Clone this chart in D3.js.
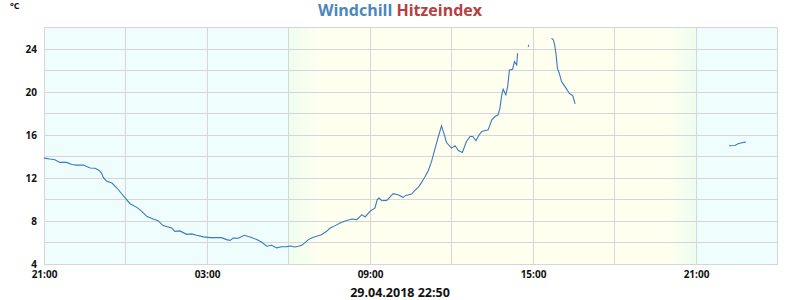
<!DOCTYPE html>
<html lang="de">
	<head>
		<meta charset="UTF-8" />
		<title>Windchill Hitzeindex</title>
		<script src="https://d3js.org/d3.v7.min.js"></script>
		<style>
			body { margin: 0; background: #fff; }
			text { font-family: "Open Sans", sans-serif; font-weight: bold; }
		</style>
	</head>
	<body></body>

	<script>
		// Messzeitpunkte (Tag Stunde:Minute, April 2018) und Windchill in °C, null = Lücke
		var times = [
			"28 21:00", "28 21:13", "28 21:24", "28 21:35", "28 21:50", "28 22:01", "28 22:12", "28 22:27",
			"28 22:42", "28 22:53", "28 23:02", "28 23:07", "28 23:11", "28 23:18", "28 23:30", "28 23:41",
			"28 23:52", "29 00:01", "29 00:10", "29 00:25", "29 00:36", "29 00:47", "29 01:01", "29 01:12",
			"29 01:23", "29 01:42", "29 01:49", "29 02:00", "29 02:15", "29 02:26", "29 02:37", "29 02:52",
			"29 03:07", "29 03:32", "29 03:43", "29 03:51", "29 03:58", "29 04:09", "29 04:22", "29 04:35",
			"29 04:50", "29 05:01", "29 05:12", "29 05:23", "29 05:34", "29 05:45", "29 05:56", "29 06:05",
			"29 06:14", "29 06:22", "29 06:29", "29 06:36", "29 06:44", "29 06:55", "29 07:02", "29 07:13",
			"29 07:24", "29 07:32", "29 07:43", "29 07:54", "29 08:05", "29 08:20", "29 08:31", "29 08:42",
			"29 08:49", "29 09:00", "29 09:11", "29 09:16", "29 09:20", "29 09:26", "29 09:37", "29 09:44",
			"29 09:51", "29 10:02", "29 10:13", "29 10:19", "29 10:32", "29 10:39", "29 10:47", "29 10:54",
			"29 11:01", "29 11:09", "29 11:16", "29 11:23", "29 11:31", "29 11:38", "29 11:43", "29 11:49",
			"29 12:00", "29 12:08", "29 12:15", "29 12:24", "29 12:33", "29 12:41", "29 12:47", "29 12:54",
			"29 13:01", "29 13:07", "29 13:21", "29 13:29", "29 13:36", "29 13:43", "29 13:47", "29 13:51",
			"29 13:54", "29 14:00", "29 14:04", "29 14:08", "29 14:15", "29 14:19", "29 14:24", "29 14:26",
			"29 14:38", "29 14:49", "29 14:51", "29 15:20", "29 15:41", "29 15:45", "29 15:48", "29 15:51",
			"29 15:54", "29 15:58", "29 16:03", "29 16:08", "29 16:14", "29 16:20", "29 16:28", "29 16:33",
			"29 19:00", "29 22:13", "29 22:26", "29 22:33", "29 22:41", "29 22:50"
		];
		var windchill = [
			13.85, 13.76, 13.7, 13.45, 13.45, 13.26, 13.2, 13.2,
			12.93, 12.9, 12.7, 12.46, 12.05, 11.72, 11.53, 11.07,
			10.51, 10.05, 9.61, 9.27, 8.9, 8.43, 8.19, 8.03,
			7.57, 7.35, 7.04, 7.08, 6.76, 6.8, 6.67, 6.52,
			6.45, 6.45, 6.27, 6.2, 6.42, 6.39, 6.67, 6.52,
			6.27, 6.02, 5.65, 5.74, 5.5, 5.6, 5.62, 5.68,
			5.58, 5.65, 5.74, 5.96, 6.27, 6.48, 6.58, 6.73,
			7.04, 7.35, 7.57, 7.82, 8.0, 8.19, 8.13, 8.59,
			8.38, 8.9, 9.21, 9.99, 10.14, 9.89, 9.92, 10.23,
			10.54, 10.45, 10.2, 10.38, 10.51, 10.85, 11.16, 11.59,
			12.09, 12.7, 13.54, 14.63, 15.86, 16.85, 16.17, 15.3,
			14.78, 15.0, 14.56, 14.38, 15.4, 15.86, 15.86, 15.46,
			16.02, 16.33, 16.48, 17.41, 17.72, 17.88, 18.5, 19.73,
			20.26, 19.73, 20.5, 22.05, 22.12, 22.83, 22.52, 23.6,
			null, 24.2, 24.4, null, 25.0, 24.84, 24.37, 23.45,
			22.2, 21.75, 20.97, 20.66, 20.29, 19.89, 19.64, 18.9,
			null, 15.0, 15.03, 15.18, 15.28, 15.34
		];

		var xDomain = ["28 21:00", "30 00:00"];
		var xTickLabels = ["28 21:00", "29 03:00", "29 09:00", "29 15:00", "29 21:00"];
		var yDomain = [4, 26];
		var yTickLabels = [4, 8, 12, 16, 20, 24];
		var sunrise = "29 06:00", sunset = "29 21:00";

		var title1 = "Windchill", title2 = "Hitzeindex";
		var footer = "29.04.2018 22:50";
		var unit = "°C";

		var parse = d3.timeParse("%Y-%m-%d %H:%M");
		var t = s => parse("2018-04-" + s);

		var datas = times.map((s, i) => ({ date: t(s), value: windchill[i] }));

		var width = 800, height = 300;
		var margin = { top: 27.5, right: 22.5, bottom: 36, left: 44 };

		var xScale = d3.scaleTime()
			.domain(xDomain.map(t))
			.range([margin.left, width - margin.right]);
		var yScale = d3.scaleLinear()
			.domain(yDomain)
			.range([height - margin.bottom, margin.top]);

		var svg = d3.select("body")
			.append("svg")
			.attr("width", width)
			.attr("height", height);

		// Hintergrund: Nacht hellblau, Tag hellgelb mit grünlichem Übergang
		var grad = svg.append("defs")
			.append("linearGradient")
			.attr("id", "day");
		[[0, "#eefdee"], [0.08, "#fffff0"], [0.93, "#fffff0"], [1, "#edfdee"]].forEach(s => {
			grad.append("stop").attr("offset", s[0]).attr("stop-color", s[1]);
		});

		var x0 = xScale.range()[0], x1 = xScale.range()[1];
		var y0 = yScale.range()[1], y1 = yScale.range()[0];

		svg.append("rect")
			.attr("x", x0).attr("y", y0)
			.attr("width", x1 - x0).attr("height", y1 - y0)
			.attr("fill", "#effdfd");
		svg.append("rect")
			.attr("x", xScale(t(sunrise))).attr("y", y0)
			.attr("width", xScale(t(sunset)) - xScale(t(sunrise)))
			.attr("height", y1 - y0)
			.attr("fill", "url(#day)");

		// Gitter
		var grid = svg.append("g")
			.attr("stroke", "#d6d6d6")
			.attr("stroke-width", 1)
			.attr("shape-rendering", "crispEdges");
		grid.selectAll(".gx")
			.data(d3.timeHour.every(3).range(xScale.domain()[0], xScale.domain()[1]))
			.enter()
			.append("line")
			.attr("x1", d => xScale(d)).attr("x2", d => xScale(d))
			.attr("y1", y0).attr("y2", y1);
		grid.selectAll(".gy")
			.data(d3.range(yDomain[0], yDomain[1] + 1, 2))
			.enter()
			.append("line")
			.attr("x1", x0).attr("x2", x1)
			.attr("y1", d => yScale(d)).attr("y2", d => yScale(d));
		grid.append("rect")
			.attr("x", x0).attr("y", y0)
			.attr("width", x1 - x0).attr("height", y1 - y0)
			.attr("fill", "none");

		// Achsen
		var xAxis = d3.axisBottom(xScale)
			.tickValues(xTickLabels.map(t))
			.tickFormat(d3.timeFormat("%H:%M"))
			.tickSize(0)
			.tickPadding(7);
		svg.append("g")
			.attr("transform", "translate(0," + y1 + ")")
			.call(xAxis)
			.call(g => g.select(".domain").remove())
			.selectAll("text")
			.attr("font-family", null)
			.attr("font-size", 10)
			.attr("fill", "#111");

		var yAxis = d3.axisLeft(yScale)
			.tickValues(yTickLabels)
			.tickSize(0)
			.tickPadding(7);
		svg.append("g")
			.attr("transform", "translate(" + x0 + ",0)")
			.call(yAxis)
			.call(g => g.select(".domain").remove())
			.selectAll("text")
			.attr("font-family", null)
			.attr("font-size", 10)
			.attr("dy", "0.38em")
			.attr("fill", "#111");

		// Linie
		svg.append("path")
			.datum(datas)
			.attr("fill", "none")
			.attr("stroke", "#3a7abf")
			.attr("stroke-width", 1.1)
			.attr("d", d3.line()
				.defined(d => d.value !== null)
				.x(d => xScale(d.date))
				.y(d => yScale(d.value)));

		// Titel
		var title = svg.append("text")
			.attr("x", width / 2)
			.attr("y", 15.5)
			.attr("text-anchor", "middle")
			.attr("font-size", 16);
		title.append("tspan").attr("fill", "#4a86c0").text(title1);
		title.append("tspan").attr("fill", "#b5403f").text(" " + title2);

		svg.append("text")
			.attr("x", 10)
			.attr("y", 9)
			.attr("font-size", 9)
			.attr("fill", "#111")
			.text(unit);

		svg.append("text")
			.attr("x", width / 2)
			.attr("y", 297)
			.attr("text-anchor", "middle")
			.attr("font-size", 12.5)
			.attr("fill", "#111")
			.text(footer);
	</script>
</html>
